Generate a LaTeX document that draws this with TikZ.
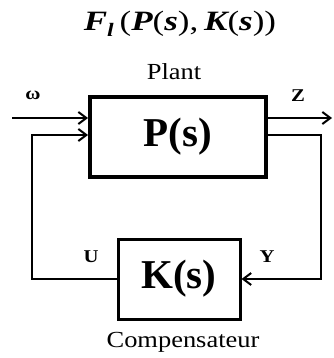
\documentclass[tikz,border=0pt]{standalone}
\usepackage{fontspec}
\setmainfont{Liberation Serif}
\newfontfamily\widefont{Liberation Serif}[FakeStretch=1.15]
\usetikzlibrary{arrows.meta}
\newcommand{\bitx}[1]{{\bfseries\itshape #1}}
\begin{document}
\begin{tikzpicture}[x=1pt,y=-1pt,
  blockP/.style={draw,line width=4pt,minimum width=176pt,minimum height=80pt,inner sep=0pt},
  blockK/.style={draw,line width=3pt,minimum width=122pt,minimum height=80pt,inner sep=0pt},
  conn/.style={line width=2pt,-{Straight Barb[length=8pt,width=12pt]}},
  sig/.style={inner sep=0pt,font=\widefont\bfseries\fontsize{18}{18}\selectfont},
  captext/.style={inner sep=0pt,font=\widefont\fontsize{23}{23}\selectfont}]
\useasboundingbox (0,0) rectangle (333,358);
\node[blockP] (P) at (178,137) {\fontsize{41}{41}\selectfont\bfseries P(s)};
\node[blockK] (K) at (179,279) {\fontsize{41}{41}\selectfont\bfseries K(s)};
\node[inner sep=0pt] (title) at (180,24) {\scalebox{1.25}[1]{\fontsize{28}{28}\selectfont\bitx{F}\raisebox{-0.22em}{\fontsize{19}{19}\selectfont\bitx{l}}\,(\bitx{P}(\bitx{s}),\,\bitx{K}(\bitx{s}))}};
\node[captext] (plant) at (174,72) {Plant};
\node[captext] (comp) at (183,342) {Compensateur};
\node[sig] (w) at (33,95) {ω};
\node[sig] (z) at (298,96) {Z};
\node[sig] (u) at (91,257) {U};
\node[sig] (y) at (267,257) {Y};
\coordinate (win) at (12,118);
\coordinate (zout) at (332,118);
\coordinate (lfb) at (32,135);
\coordinate (rfb) at (321,135);
\draw[conn] (win) -- (win -| P.west);
\draw[conn] (zout -| P.east) -- (zout);
\draw[conn] (K.west) -| (lfb) -- (lfb -| P.west);
\draw[conn] (rfb -| P.east) -- (rfb) |- (K.east);
\end{tikzpicture}
\end{document}
